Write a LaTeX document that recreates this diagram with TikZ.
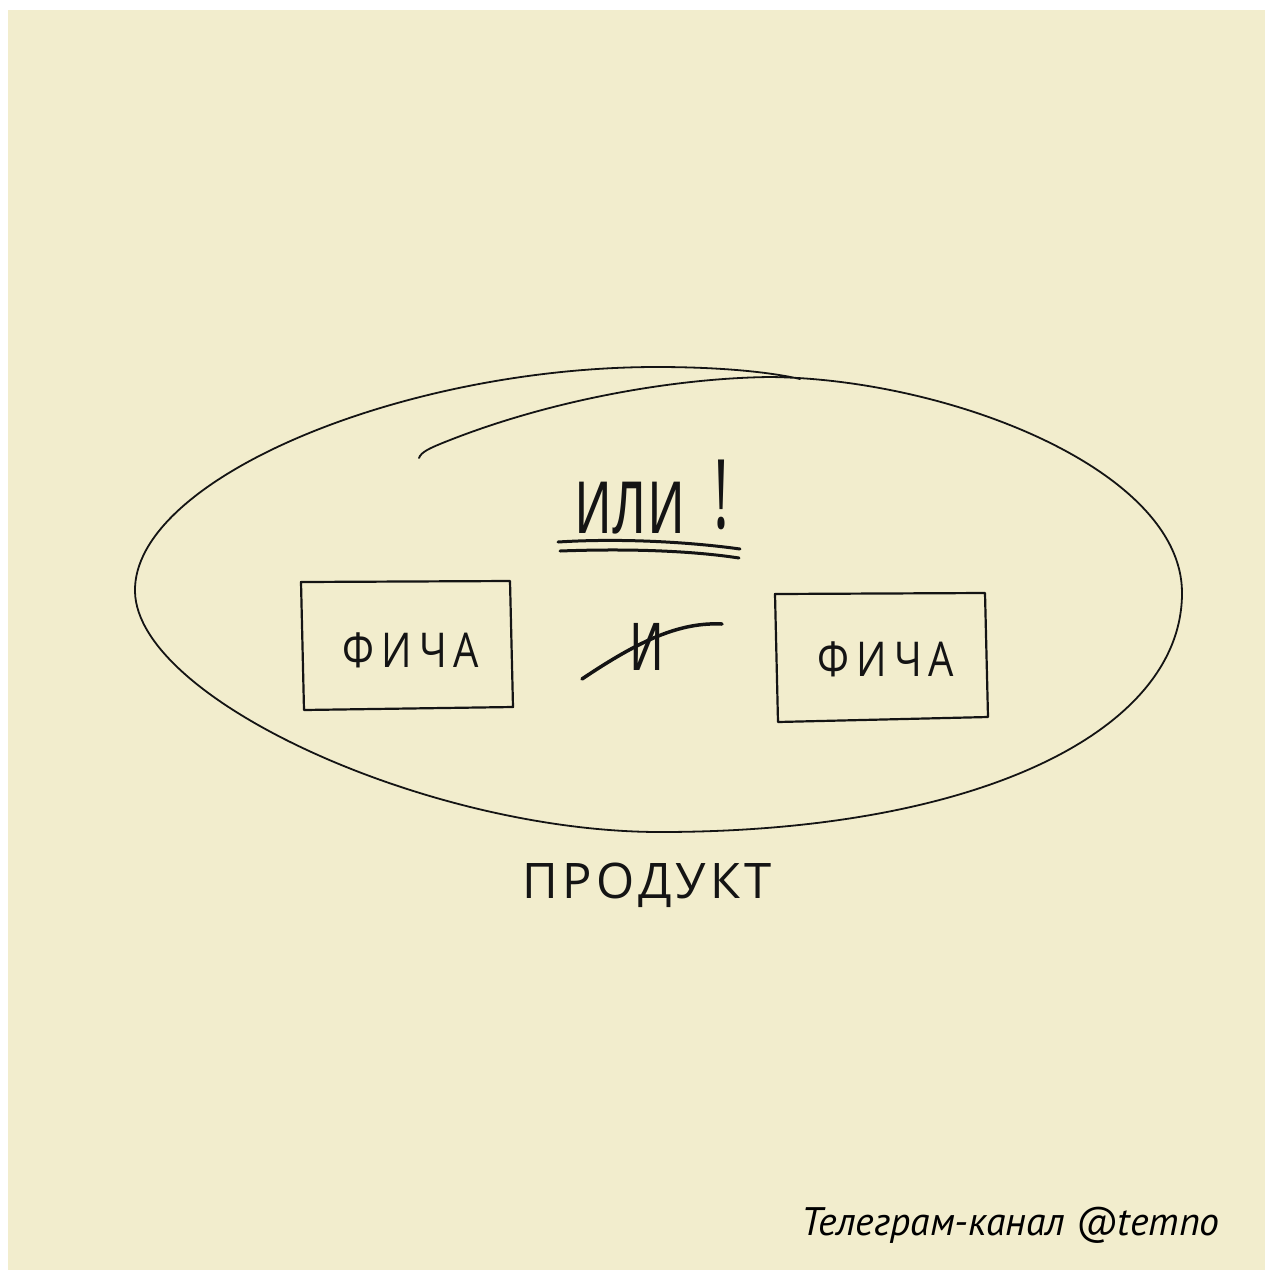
\documentclass[tikz,border=0pt]{standalone}
\usepackage{fontspec}
\setmainfont{Open Sans}
\newfontfamily\footfont{PT Sans}
\definecolor{cream}{RGB}{242,237,205}
\definecolor{ink}{RGB}{20,20,20}
\tikzset{
  hand/.style={draw=ink, line width=1.8pt, line cap=round, line join=round},
  boxline/.style={draw=ink, line width=2.2pt, line join=round},
  word/.style={inner sep=0pt, text=ink, anchor=center},
}
\begin{document}
\begin{tikzpicture}[x=1pt,y=-1pt]
\useasboundingbox (0,0) rectangle (1265,1270);
\fill[white] (0,0) rectangle (1265,1270);
\fill[cream] (8,10) rectangle (1265,1270);

% product loop
\draw[hand] (419,458) .. controls (421,452) and (430,448) .. (445,442)
  .. controls (555,398) and (680,378) .. (770,377)
  .. controls (950,379) and (1181,470) .. (1182,592)
  .. controls (1183,730) and (980,832) .. (660,832)
  .. controls (430,832) and (138,700) .. (135,592)
  .. controls (132,480) and (400,367) .. (657,367)
  .. controls (720,367) and (770,372) .. (800,379);

% feature boxes
\draw[boxline] (301,582) -- (510,581) -- (513,707) -- (304,710) -- cycle;
\draw[boxline] (775,594) -- (985,593) -- (988,717) -- (778,722) -- cycle;
\node[word, font=\fontsize{40}{40}\selectfont] (f1) at (411,650) {\scalebox{1}[1.2]{Ф\hspace{7pt}И\hspace{7pt}Ч\hspace{7pt}А}};
\node[word, font=\fontsize{40}{40}\selectfont] (f2) at (886,659) {\scalebox{1}[1.2]{Ф\hspace{7pt}И\hspace{7pt}Ч\hspace{7pt}А}};

% crossed "и"
\node[word, font=\fontsize{55}{55}\selectfont] (and) at (647,647) {\scalebox{1}[1.6]{и}};
\draw[draw=ink, line width=3.5pt, line cap=round] (582,679) .. controls (640,640) and (680,622) .. (722,624);

% "или!"
\node[word, font=\fontsize{60}{60}\selectfont] (ili) at (630,508) {\scalebox{1}[1.6]{или}};
\node[word, font=\fontsize{60}{60}\selectfont] (excl) at (722,495) {\scalebox{1}[1.6]{!}};
\draw[draw=ink, line width=3pt, line cap=round] (558,542) .. controls (620,538) and (690,542) .. (740,549);
\draw[draw=ink, line width=3pt, line cap=round] (560,551) .. controls (640,548) and (700,552) .. (739,558);

% label
\node[word, font=\fontsize{49}{49}\selectfont] (prod) at (647,885) {П\hspace{4pt}Р\hspace{4pt}О\hspace{4pt}Д\hspace{4pt}У\hspace{4pt}К\hspace{4pt}Т};

% footer
\node[inner sep=0pt, anchor=base east, text=black, font=\footfont\itshape\fontsize{39.8}{40}\selectfont] (foot) at (1220,1235) {Телеграм-канал @temno};
\end{tikzpicture}
\end{document}
